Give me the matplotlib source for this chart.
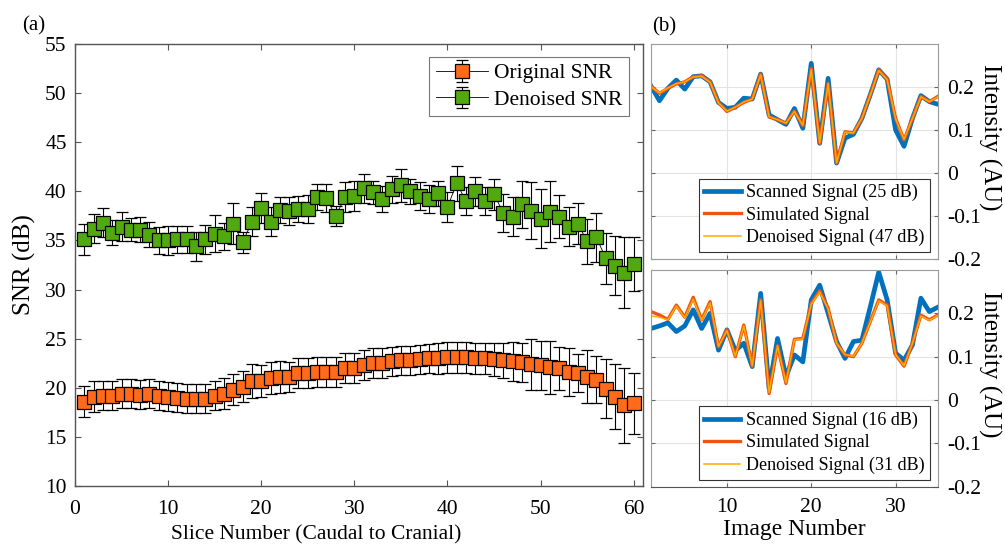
import numpy as np
import matplotlib
matplotlib.use("Agg")
from matplotlib import pyplot as plt

plt.rcParams['font.family'] = ['Liberation Serif', 'DejaVu Serif']

# (a) SNR per slice
slices = np.arange(1, 61)
original_snr = [18.6, 19.1, 19.2, 19.2, 19.4, 19.4, 19.3, 19.4, 19.2, 19.1,
                19.0, 18.9, 18.9, 18.9, 19.2, 19.4, 19.8, 20.1, 20.7, 20.7,
                21.0, 21.1, 21.1, 21.5, 21.5, 21.6, 21.6, 21.6, 22.0, 22.0,
                22.3, 22.5, 22.5, 22.7, 22.8, 22.8, 22.9, 23.0, 23.0, 23.1,
                23.1, 23.1, 23.0, 23.0, 22.9, 22.8, 22.7, 22.6, 22.4, 22.3,
                22.1, 22.0, 21.6, 21.5, 21.1, 20.8, 19.9, 19.1, 18.2, 18.4]
original_err = [1.6, 1.6, 1.5, 1.5, 1.5, 1.5, 1.5, 1.5, 1.5, 1.5,
                1.5, 1.5, 1.5, 1.5, 1.5, 1.6, 1.6, 1.6, 1.7, 1.6,
                1.6, 1.6, 1.5, 1.5, 1.5, 1.5, 1.5, 1.5, 1.5, 1.5,
                1.5, 1.5, 1.5, 1.5, 1.5, 1.5, 1.5, 1.5, 1.6, 1.6,
                1.6, 1.6, 1.6, 1.6, 1.7, 1.8, 2.0, 2.0, 2.6, 2.5,
                2.7, 2.2, 2.4, 1.9, 2.7, 2.4, 3.0, 3.3, 3.8, 3.1]
denoised_snr = [35.1, 36.2, 36.8, 35.8, 36.4, 36.1, 36.1, 35.6, 35.0, 35.0,
                35.1, 35.1, 34.4, 35.1, 35.7, 35.4, 36.7, 34.8, 36.9, 38.3,
                36.9, 38.1, 38.0, 38.2, 38.2, 39.4, 39.3, 37.5, 39.4, 39.5,
                40.3, 39.9, 39.2, 40.2, 40.6, 40.0, 39.5, 39.2, 39.8, 38.4,
                40.8, 39.0, 40.0, 39.0, 39.7, 37.8, 37.4, 38.7, 38.0, 37.2,
                37.9, 37.4, 36.4, 36.7, 34.9, 35.3, 33.2, 32.4, 31.7, 32.6]
denoised_err = [1.6, 1.5, 1.5, 1.3, 1.5, 1.2, 1.3, 1.3, 1.4, 1.5,
                1.4, 1.4, 1.5, 1.5, 1.9, 1.4, 2.1, 1.1, 1.5, 1.5,
                1.5, 1.3, 1.4, 1.3, 1.4, 1.3, 1.4, 1.0, 1.5, 1.5,
                1.5, 1.2, 1.3, 1.4, 1.7, 1.3, 1.4, 1.4, 1.3, 1.5,
                1.8, 1.4, 1.5, 1.4, 1.6, 1.9, 2.0, 2.4, 2.9, 3.0,
                3.1, 2.2, 2.0, 2.1, 2.3, 2.5, 2.6, 3.0, 3.6, 2.7]

# (b) intensity profiles
images = np.arange(1, 36)
top_scanned = [0.202, 0.168, 0.197, 0.216, 0.195, 0.224, 0.226, 0.212, 0.164, 0.150,
               0.153, 0.174, 0.172, 0.230, 0.135, 0.124, 0.113, 0.150, 0.104, 0.255,
               0.069, 0.220, 0.023, 0.081, 0.090, 0.127, 0.182, 0.240, 0.218, 0.100,
               0.062, 0.127, 0.180, 0.166, 0.160]
top_simulated = [0.202, 0.185, 0.197, 0.207, 0.212, 0.224, 0.226, 0.212, 0.164, 0.143,
                 0.153, 0.164, 0.172, 0.230, 0.130, 0.124, 0.116, 0.144, 0.110, 0.243,
                 0.069, 0.209, 0.023, 0.096, 0.093, 0.127, 0.182, 0.240, 0.218, 0.127,
                 0.077, 0.127, 0.178, 0.166, 0.178]
top_denoised = [0.201, 0.186, 0.198, 0.208, 0.212, 0.223, 0.225, 0.211, 0.163, 0.144,
                0.153, 0.165, 0.172, 0.228, 0.131, 0.124, 0.116, 0.143, 0.111, 0.241,
                0.070, 0.208, 0.024, 0.095, 0.093, 0.127, 0.181, 0.238, 0.217, 0.126,
                0.078, 0.127, 0.177, 0.166, 0.177]
bottom_scanned = [0.165, 0.171, 0.178, 0.158, 0.171, 0.208, 0.165, 0.200, 0.115, 0.162,
                  0.114, 0.131, 0.077, 0.246, 0.027, 0.142, 0.054, 0.104, 0.088, 0.231,
                  0.265, 0.200, 0.135, 0.096, 0.135, 0.138, 0.215, 0.295, 0.231, 0.108,
                  0.092, 0.127, 0.235, 0.204, 0.214]
bottom_simulated = [0.204, 0.196, 0.186, 0.219, 0.191, 0.237, 0.185, 0.227, 0.123, 0.162,
                    0.100, 0.173, 0.078, 0.232, 0.015, 0.125, 0.038, 0.140, 0.142, 0.223,
                    0.252, 0.212, 0.131, 0.104, 0.100, 0.131, 0.181, 0.231, 0.219, 0.104,
                    0.078, 0.131, 0.196, 0.185, 0.196]
bottom_denoised = [0.194, 0.191, 0.185, 0.217, 0.190, 0.233, 0.184, 0.224, 0.124, 0.160,
                   0.101, 0.171, 0.079, 0.229, 0.017, 0.125, 0.040, 0.139, 0.141, 0.221,
                   0.249, 0.210, 0.131, 0.105, 0.101, 0.131, 0.180, 0.229, 0.217, 0.105,
                   0.079, 0.131, 0.194, 0.184, 0.195]

fig = plt.figure(figsize=(10.05, 5.45), dpi=100)

# ---- panel (a)
ax = fig.add_axes([0.0746, 0.1083, 0.5652, 0.811])
ax.errorbar(slices, original_snr, yerr=original_err, fmt='-s', color='black', lw=0.6,
            ms=9.5, mfc='#FF6B1A', mec='black', mew=0.9, ecolor='black', elinewidth=0.8,
            capsize=4, capthick=0.8, label='Original SNR')
ax.errorbar(slices, denoised_snr, yerr=denoised_err, fmt='-s', color='black', lw=0.6,
            ms=9.5, mfc='#52A90F', mec='black', mew=0.9, ecolor='black', elinewidth=0.8,
            capsize=4, capthick=0.8, label='Denoised SNR')
ax.set_xlim(0, 61)
ax.set_ylim(10, 55)
ax.set_xticks(range(0, 61, 10))
ax.set_yticks(range(10, 56, 5))
ax.tick_params(direction='in', top=True, right=True, labelsize=15.5, length=4,
               color='#555555')
ax.tick_params(axis='x', pad=10)
ax.tick_params(axis='y', pad=6)
for s in ax.spines.values():
    s.set_color('#555555')
    s.set_linewidth(1.0)
ax.set_xlabel('Slice Number (Caudal to Cranial)', fontsize=15.5)
ax.xaxis.set_label_coords(0.424, -0.088)
ax.set_ylabel('SNR (dB)', fontsize=18)
ax.yaxis.set_label_coords(-0.068, 0.5)
leg = ax.legend(loc='upper right', bbox_to_anchor=(0.975, 0.971), fontsize=15.5,
                fancybox=False, edgecolor='#555555', handlelength=2.4,
                handletextpad=0.3, borderpad=0.3, labelspacing=0.3,
                borderaxespad=0)
leg.get_frame().set_linewidth(0.8)
fig.text(0.022, 0.953, '(a)', fontsize=15, ha='left', va='center')
fig.text(0.649, 0.950, '(b)', fontsize=15, ha='left', va='center')


def signal_panel(rect, scanned, simulated, denoised, labels, bottom):
    a = fig.add_axes(rect)
    a.plot(images, scanned, color='#0072BD', lw=3.4, label=labels[0])
    a.plot(images, simulated, color='#F05414', lw=2.4, label=labels[1])
    a.plot(images, denoised, color='#FFAA00', lw=1.1, label=labels[2])
    a.set_xlim(1, 35)
    a.set_ylim(-0.2, 0.3)
    a.set_xticks([10, 20, 30])
    a.set_yticks([-0.2, -0.1, 0, 0.1, 0.2])
    a.set_yticklabels(['-0.2', '-0.1', '0', '0.1', '0.2'])
    a.yaxis.tick_right()
    a.yaxis.set_label_position('right')
    a.tick_params(direction='in', top=True, left=True, right=True, labelsize=15.5,
                  length=3, color='#666666')
    a.tick_params(axis='y', pad=7)
    a.tick_params(axis='x', pad=8)
    a.grid(True, color='#e4e4e4', lw=0.8)
    for s in a.spines.values():
        s.set_color('#9a9a9a')
        s.set_linewidth(0.8)
    a.set_ylabel('Intensity (AU)', fontsize=18, rotation=-90, va='center')
    a.yaxis.set_label_coords(1.18, 0.565)
    if bottom:
        a.set_xlabel('Image Number', fontsize=17)
        a.xaxis.set_label_coords(0.5, -0.15)
        a.spines['bottom'].set_color('#555555')
    else:
        a.tick_params(labelbottom=False)
    lg = a.legend(loc='lower right', bbox_to_anchor=(0.972, 0.033), fontsize=13,
                  fancybox=False, edgecolor='#333333', handlelength=2.0,
                  handletextpad=0.3, borderpad=0.3, labelspacing=0.3,
                  framealpha=1, borderaxespad=0)
    lg.get_frame().set_linewidth(0.8)
    return a


signal_panel([0.6478, 0.5248, 0.2853, 0.3945], top_scanned, top_simulated, top_denoised,
             ['Scanned Signal (25 dB)', 'Simulated Signal', 'Denoised Signal (47 dB)'], False)
signal_panel([0.6478, 0.107, 0.2853, 0.3976], bottom_scanned, bottom_simulated, bottom_denoised,
             ['Scanned Signal (16 dB)', 'Simulated Signal', 'Denoised Signal (31 dB)'], True)

fig.savefig('out.png', dpi=100)
